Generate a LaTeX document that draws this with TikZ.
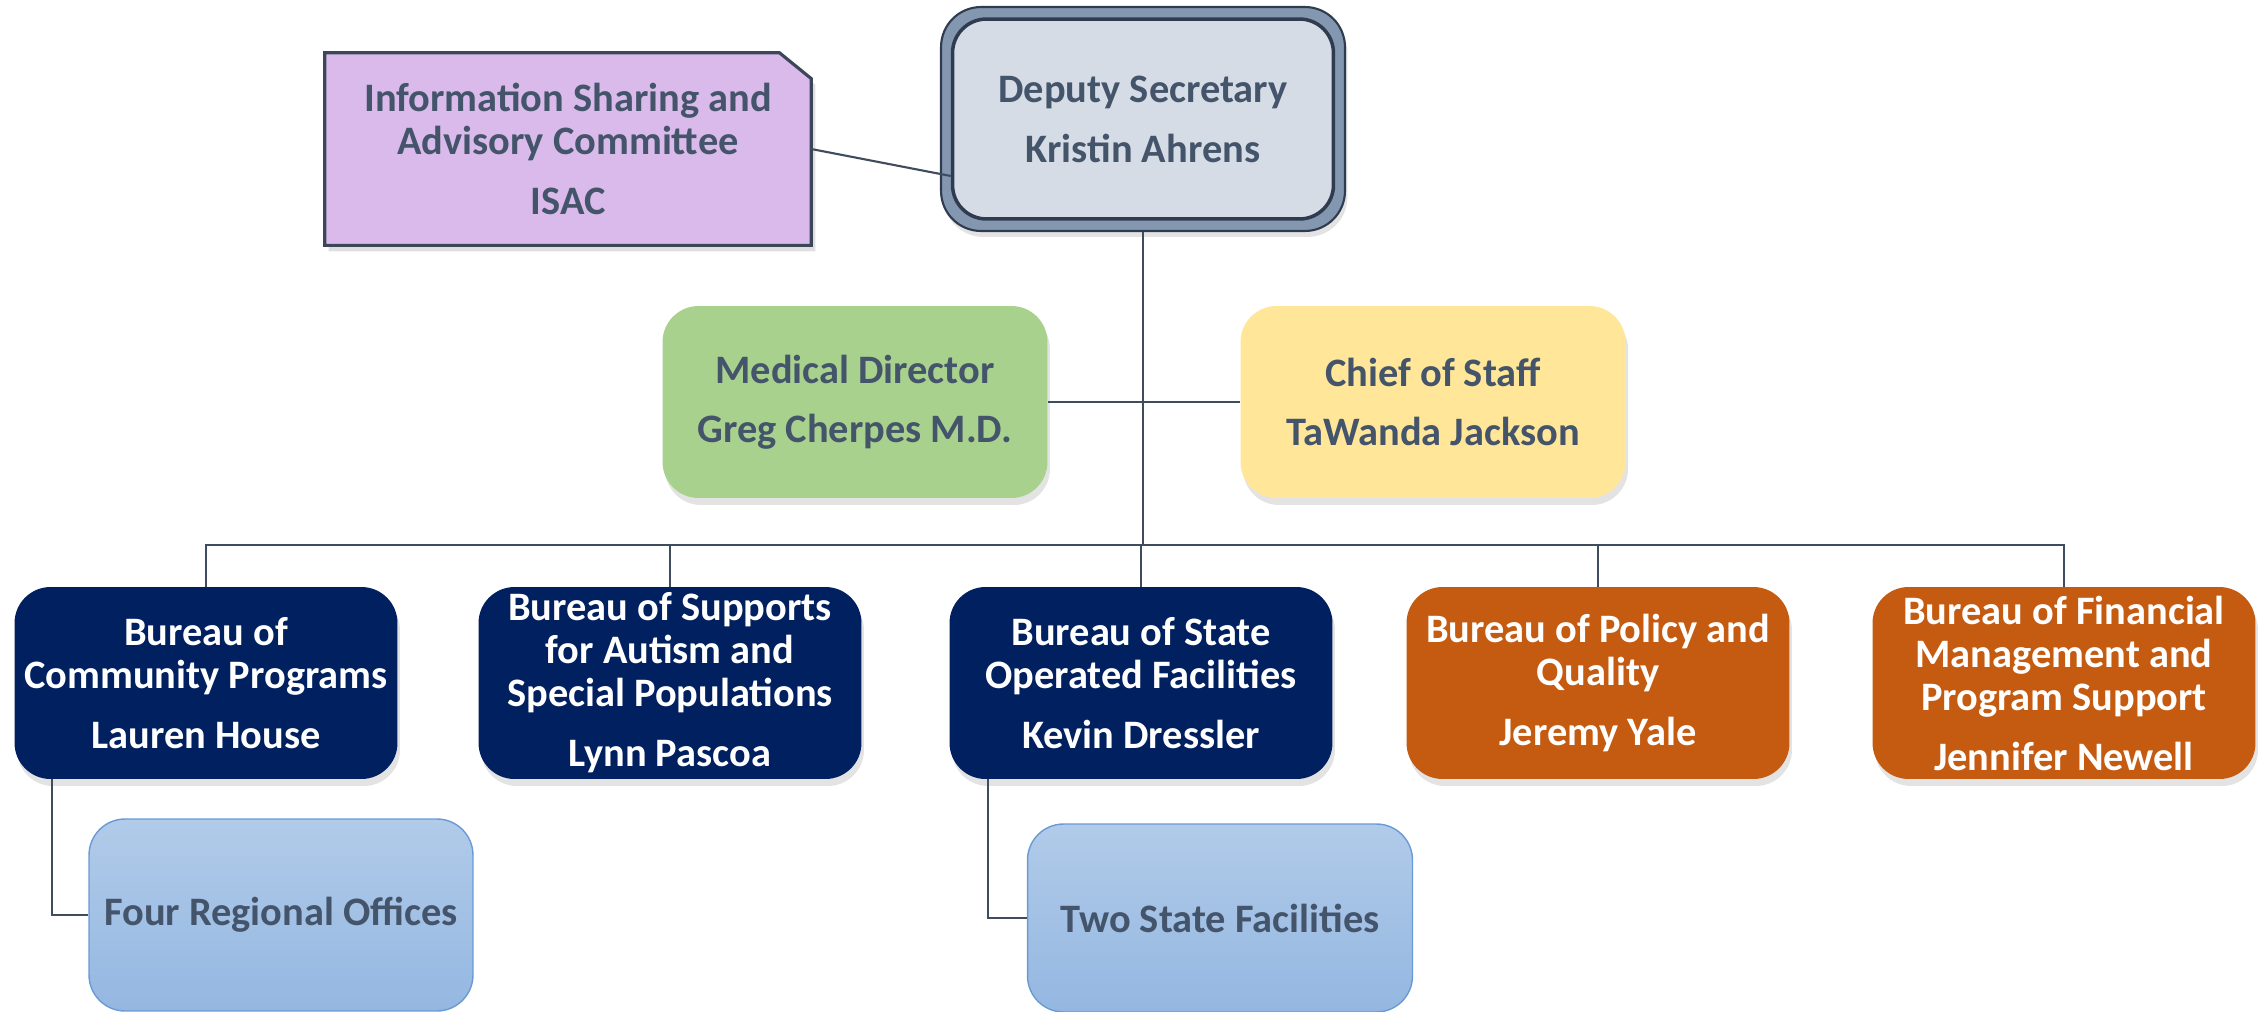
\documentclass[tikz,border=0pt]{standalone}
\usepackage{fontspec}
\setmainfont{Carlito}
\usetikzlibrary{shadows,backgrounds}
\definecolor{txtgray}{HTML}{44546A}
\definecolor{linegray}{HTML}{3E4C5E}
\definecolor{navyblue}{HTML}{002060}
\definecolor{rustorange}{HTML}{C55A11}
\definecolor{medgreen}{HTML}{A9D18E}
\definecolor{chiefyellow}{HTML}{FFE699}
\definecolor{isacfill}{HTML}{D9BAEA}
\definecolor{isacedge}{HTML}{3B4658}
\definecolor{depfill}{HTML}{D6DCE5}
\definecolor{deptrim}{HTML}{8497B0}
\definecolor{depedge}{HTML}{2F3B4F}
\definecolor{officetop}{HTML}{B1CBE9}
\definecolor{officebot}{HTML}{94B7E1}
\definecolor{officeedge}{HTML}{6A9AD4}

\begin{document}
\begin{tikzpicture}[x=0.02cm,y=-0.02cm,
  unitbox/.style={rounded corners=0.72cm, minimum width=7.66cm, minimum height=3.84cm,
    align=center, inner sep=0pt, font=\fontsize{23}{24.5}\selectfont\bfseries},
  shadebox/.style={unitbox, drop shadow={shadow xshift=0.05cm, shadow yshift=-0.14cm, opacity=0.22}},
  navybox/.style={shadebox, fill=navyblue, text=white},
  rustbox/.style={shadebox, fill=rustorange, text=white},
  officebox/.style={unitbox, top color=officetop, bottom color=officebot, draw=officeedge,
    line width=0.8pt, text=txtgray},
  link/.style={draw=linegray, line width=1.2pt}]
\useasboundingbox (0,0) rectangle (2262,1011);

\node[rounded corners=0.8cm, minimum width=8.08cm, minimum height=4.48cm, fill=deptrim,
  draw=depedge, line width=1.2pt, drop shadow={shadow xshift=0.05cm, shadow yshift=-0.12cm, opacity=0.22}]
  (depframe) at (1143,119) {};
\node[unitbox, rounded corners=0.68cm, minimum width=7.62cm, minimum height=4.0cm, fill=depfill,
  draw=depedge, line width=2pt, text=txtgray] (dep) at (1143,119) {Deputy Secretary\\[9.6pt]Kristin Ahrens};

\node[unitbox, minimum width=9.72cm, text=txtgray] (isac) at (568,149)
  {Information Sharing and\\Advisory Committee\\[9.6pt]ISAC};
\begin{scope}[on background layer]
\filldraw[fill=isacfill, draw=isacedge, line width=1.8pt,
  drop shadow={shadow xshift=0.08cm, shadow yshift=-0.12cm, opacity=0.25}]
  (isac.south west) -- (isac.north west) -- ([xshift=-0.64cm]isac.north east)
  -- ([yshift=-0.52cm]isac.north east) -- (isac.south east) -- cycle;
\end{scope}

\node[shadebox, minimum width=7.7cm, fill=medgreen, text=txtgray] (med) at (855,402)
  {Medical Director\\[9pt]Greg Cherpes M.D.};
\node[shadebox, minimum width=7.7cm, fill=chiefyellow, text=txtgray] (chief) at (1433,402)
  {Chief of Staff\\[9pt]TaWanda Jackson};

\node[navybox] (b1) at (206,683) {Bureau of\\Community Programs\\[9.6pt]Lauren House};
\node[navybox] (b2) at (670,683) {Bureau of Supports\\for Autism and\\Special Populations\\[9.6pt]Lynn Pascoa};
\node[navybox] (b3) at (1141,683) {Bureau of State\\Operated Facilities\\[9.6pt]Kevin Dressler};
\node[rustbox] (b4) at (1598,683) {Bureau of Policy and\\Quality\\[9.6pt]Jeremy Yale};
\node[rustbox] (b5) at (2064,683) {Bureau of Financial\\Management and\\Program Support\\[9.6pt]Jennifer Newell};

\node[officebox, minimum width=7.68cm] (four) at (281,915) {Four Regional Offices};
\node[officebox, minimum width=7.7cm, minimum height=3.76cm] (two) at (1220,918) {Two State Facilities};

\coordinate (bus) at (1143,545);
\draw[link] (isac.east) -- ([yshift=-1.14cm]dep.west);
\draw[link] (depframe.south) -- (bus);
\draw[link] (med.east) -- (chief.west);
\draw[link] (b1.north) |- (bus) -| (b5.north);
\foreach \b in {b2,b3,b4}
  \draw[link] (\b.north) -- (\b.north |- bus);
\draw[link] ([xshift=0.76cm]b1.south west) |- (four.west);
\draw[link] ([xshift=0.78cm]b3.south west) |- (two.west);
\end{tikzpicture}
\end{document}
